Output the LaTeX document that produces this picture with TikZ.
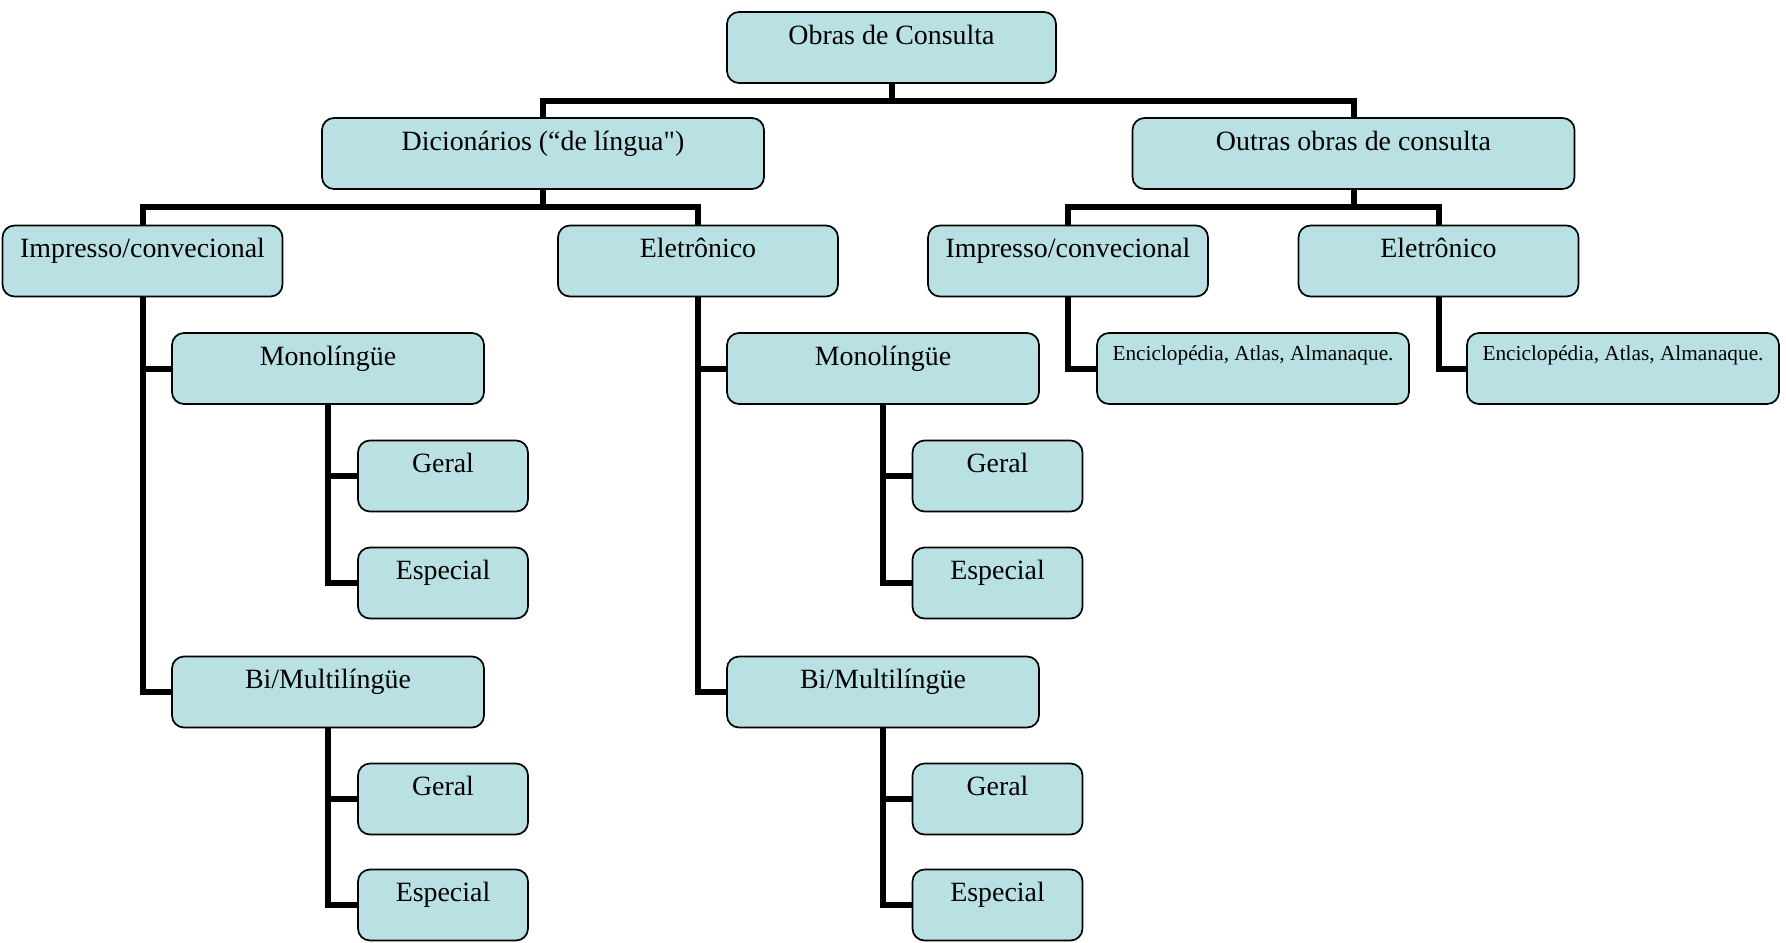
\documentclass[tikz,border=0pt]{standalone}
\usepackage{fontspec}
\setmainfont{Liberation Serif}
\usetikzlibrary{calc,backgrounds}
\definecolor{boxfill}{RGB}{185,224,227}

\begin{document}
\begin{tikzpicture}[x=0.5pt,y=-0.5pt,
	box/.style={draw, line width=0.85pt, rounded corners=6pt, fill=boxfill,
		minimum height=35.5pt, inner ysep=3pt, text height=13pt, text depth=16.5pt,
		font=\fontsize{13.95}{16}\selectfont},
	smalltext/.style={font=\fontsize{10.65}{12}\selectfont, text height=10.5pt, text depth=19pt},
	conn/.style={line width=3pt}]
		
		\useasboundingbox (0,0) rectangle (1786,942);
		
		% Top and first level
		\node[box, minimum width=164.5pt] (obras) at (891.5,47.5) {Obras de Consulta};
		\node[box, minimum width=221pt] (dic) at (543,153.5) {Dicionários (“de língua\textquotedbl)};
		\node[box, minimum width=221pt] (outras) at (1353.5,153.5) {Outras obras de consulta};
		
		% Second level
		\node[box, minimum width=140pt] (imp1) at (142.5,261) {Impresso/convecional};
		\node[box, minimum width=140pt] (ele1) at (698,261) {Eletrônico};
		\node[box, minimum width=140pt] (imp2) at (1068,261) {Impresso/convecional};
		\node[box, minimum width=140pt] (ele2) at (1438.5,261) {Eletrônico};
		
		% Impresso (dicionários)
		\node[box, minimum width=156pt] (mono1) at (328,368.5) {Monolíngüe};
		\node[box, minimum width=85pt] (ger1) at (443,476) {Geral};
		\node[box, minimum width=85pt] (esp1) at (443,583) {Especial};
		\node[box, minimum width=156pt] (bi1) at (328,692) {Bi/Multilíngüe};
		\node[box, minimum width=85pt] (ger2) at (443,799) {Geral};
		\node[box, minimum width=85pt] (esp2) at (443,905) {Especial};
		
		% Eletronico (dicionários)
		\node[box, minimum width=156pt] (mono2) at (883,368.5) {Monolíngüe};
		\node[box, minimum width=85pt] (ger3) at (997.5,476) {Geral};
		\node[box, minimum width=85pt] (esp3) at (997.5,583) {Especial};
		\node[box, minimum width=156pt] (bi2) at (883,692) {Bi/Multilíngüe};
		\node[box, minimum width=85pt] (ger4) at (997.5,799) {Geral};
		\node[box, minimum width=85pt] (esp4) at (997.5,905) {Especial};
		
		% Outras obras
		\node[box, smalltext, minimum width=156pt] (enc1) at (1253,368.5) {Enciclopédia, Atlas, Almanaque.};
		\node[box, smalltext, minimum width=156pt] (enc2) at (1623,368.5) {Enciclopédia, Atlas, Almanaque.};
		
		\begin{pgfonlayer}{background}
		% Buses
		\coordinate (bus1) at ($(obras.south)!.5!(dic.north)$);
		\draw[conn] (obras.south) -- (obras.south |- bus1);
		\draw[conn] (dic.north) |- (bus1) -| (outras.north);
		\coordinate (bus2) at ($(dic.south)!.5!(imp1.north)$);
		\draw[conn] (dic.south) -- (dic.south |- bus2);
		\draw[conn] (imp1.north) |- (bus2) -| (ele1.north);
		\draw[conn] (outras.south) -- (outras.south |- bus2);
		\draw[conn] (imp2.north) |- (outras.south |- bus2) -| (ele2.north);
		
		% Side branches
		\foreach \p/\c in {imp1/mono1, imp1/bi1, mono1/ger1, mono1/esp1, bi1/ger2, bi1/esp2,
			ele1/mono2, ele1/bi2, mono2/ger3, mono2/esp3, bi2/ger4, bi2/esp4,
			imp2/enc1, ele2/enc2}
			\draw[conn] (\p.south) |- (\c.west);
		\end{pgfonlayer}
	\end{tikzpicture}
\end{document}
